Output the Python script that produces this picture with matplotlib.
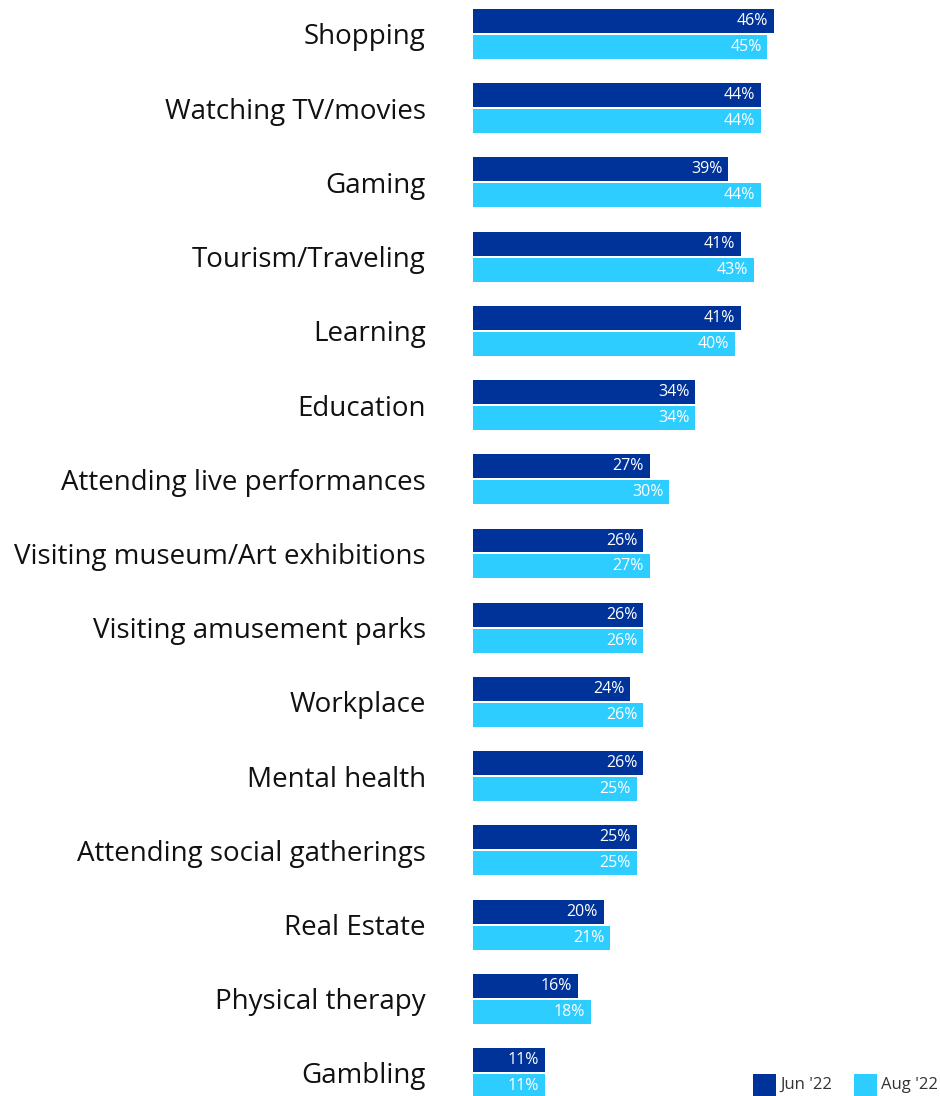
import matplotlib
matplotlib.use("Agg")
import matplotlib.pyplot as plt
from matplotlib.patches import Rectangle

plt.rcParams['font.family'] = ['Open Sans', 'DejaVu Sans']

categories = [
    "Shopping", "Watching TV/movies", "Gaming", "Tourism/Traveling", "Learning",
    "Education", "Attending live performances", "Visiting museum/Art exhibitions",
    "Visiting amusement parks", "Workplace", "Mental health",
    "Attending social gatherings", "Real Estate", "Physical therapy", "Gambling",
]
jun_22 = [46, 44, 39, 41, 41, 34, 27, 26, 26, 24, 26, 25, 20, 16, 11]
aug_22 = [45, 44, 44, 43, 40, 34, 30, 27, 26, 26, 25, 25, 21, 18, 11]
series_names = ["Jun '22", "Aug '22"]

DARK = "#003399"
LIGHT = "#2ECDFF"

W, H = 940, 1096
fig = plt.figure(figsize=(W / 100, H / 100), dpi=100)
ax = fig.add_axes([473 / W, 0, 458 / W, 1])

bar_h = 0.323
off = 0.175
ys = list(range(len(categories)))
for i, (a, b) in enumerate(zip(jun_22, aug_22)):
    ax.barh(i - off, a, height=bar_h, color=DARK, linewidth=0)
    ax.barh(i + off, b, height=bar_h, color=LIGHT, linewidth=0)
    ax.text(a - 0.9, i - off, f"{a}%", color="white", ha="right", va="center", fontsize=11.5)
    ax.text(b - 0.9, i + off, f"{b}%", color="white", ha="right", va="center", fontsize=11.5)

ax.set_xlim(0, 70)
ax.set_ylim(14.31, -0.458)
ax.set_yticks(ys)
ax.set_yticklabels(categories, fontsize=20, color="#111111")
ax.tick_params(axis="y", length=0, pad=34)
ax.set_xticks([])
for s in ax.spines.values():
    s.set_visible(False)

# legend
for x0, name, col in [(753, series_names[0], DARK), (854, series_names[1], LIGHT)]:
    fig.patches.append(Rectangle((x0 / W, 0), 23 / W, 22 / H, transform=fig.transFigure,
                                 color=col, linewidth=0))
    fig.text((x0 + 27) / W, 11 / H, name, fontsize=12, color="#333333", va="center", ha="left")

fig.savefig("out.png", dpi=100)
